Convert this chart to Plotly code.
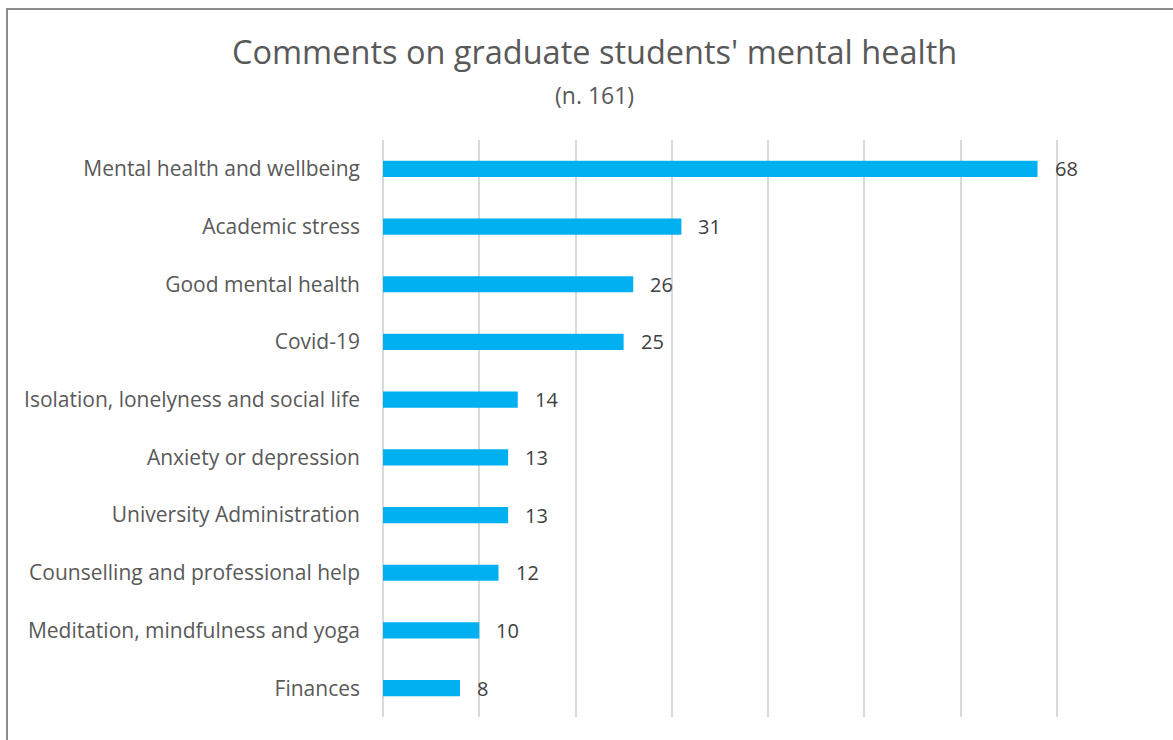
import plotly.graph_objects as go

# Comment themes and number of comments in each
categories = [
    "Mental health and wellbeing",
    "Academic stress",
    "Good mental health",
    "Covid-19",
    "Isolation, lonelyness and social life",
    "Anxiety or depression",
    "University Administration",
    "Counselling and professional help",
    "Meditation, mindfulness and yoga",
    "Finances",
]
counts = [68, 31, 26, 25, 14, 13, 13, 12, 10, 8]

title_text = "Comments on graduate students' mental health"
subtitle_text = "(n. 161)"

W, H = 1173, 740
ML, MR, MT, MB = 383, 20, 140, 23
plot_w = W - ML - MR
plot_h = H - MT - MB

FONT = "Open Sans"
TITLE_CX = 594.5

fig = go.Figure(
    go.Bar(
        x=counts,
        y=categories,
        orientation="h",
        marker=dict(color="#00B0F0", line=dict(width=0)),
        width=0.28,
        hoverinfo="x+y",
    )
)

# value labels to the right of each bar
for cat, val in zip(categories, counts):
    fig.add_annotation(
        x=val, y=cat, xref="x", yref="y",
        text=str(val), showarrow=False,
        xanchor="left", yanchor="middle", xshift=15, yshift=0,
        font=dict(family=FONT, size=20, color="#404040"),
    )

# chart title and subtitle
fig.add_annotation(
    x=(TITLE_CX - ML) / plot_w, y=(H - MB - 52) / plot_h,
    xref="paper", yref="paper", text=title_text, showarrow=False,
    xanchor="center", yanchor="middle",
    font=dict(family=FONT, size=32.5, color="#595959"),
)
fig.add_annotation(
    x=(TITLE_CX - ML) / plot_w, y=(H - MB - 95) / plot_h,
    xref="paper", yref="paper", text=subtitle_text, showarrow=False,
    xanchor="center", yanchor="middle",
    font=dict(family=FONT, size=23, color="#595959"),
)

# outer chart frame
fig.add_shape(
    type="rect", xref="paper", yref="paper",
    x0=(7 - ML) / plot_w, x1=(W + 10 - ML) / plot_w,
    y0=(H - MB - (H + 10)) / plot_h, y1=(H - MB - 9) / plot_h,
    line=dict(color="#8c8c8c", width=2), fillcolor="rgba(0,0,0,0)",
    layer="below",
)

fig.update_layout(
    width=W, height=H,
    margin=dict(l=ML, r=MR, t=MT, b=MB),
    paper_bgcolor="white", plot_bgcolor="white",
    showlegend=False,
    bargap=0.72,
    xaxis=dict(
        range=[0, 80], dtick=10, showticklabels=False,
        showgrid=True, gridcolor="#d9d9d9", gridwidth=1.5,
        zeroline=True, zerolinecolor="#d9d9d9", zerolinewidth=1.5,
        showline=False, ticks="", fixedrange=True,
    ),
    yaxis=dict(
        autorange="reversed", showgrid=False, showline=False,
        ticks="", ticklabelstandoff=22,
        tickfont=dict(family=FONT, size=21, color="#595959"),
        fixedrange=True,
    ),
)

fig.write_html("out.html")
